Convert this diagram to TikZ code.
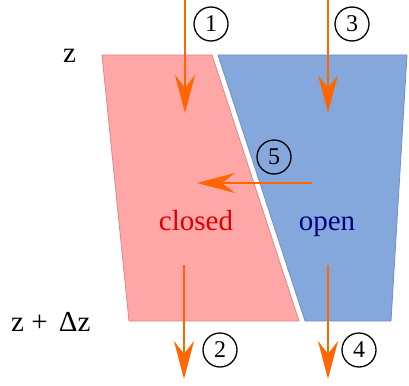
\documentclass[tikz,border=0pt]{standalone}
\usepackage{fontspec}
\setmainfont{Liberation Serif}
\usetikzlibrary{arrows.meta}
\definecolor{redfill}{HTML}{FFA6A6}
\definecolor{redline}{HTML}{D98A8A}
\definecolor{bluefill}{HTML}{85A8DC}
\definecolor{blueline}{HTML}{7090C0}
\definecolor{flow}{HTML}{FF6600}
\definecolor{closedred}{HTML}{DD0000}
\definecolor{opennavy}{HTML}{000080}
\tikzset{
  flowarrow/.style={draw=flow, line width=1.8pt, -{Stealth[length=38pt,width=20pt,inset=13pt]}},
  numcircle/.style={circle, draw=black, line width=1.3pt, minimum size=34pt, inner sep=0pt, font=\fontsize{24}{24}\selectfont},
  lbl/.style={font=\fontsize{29}{29}\selectfont, inner sep=0pt},
}
\begin{document}
\begin{tikzpicture}[x=1pt,y=-1pt]
\useasboundingbox (0,0) rectangle (409,385);
% cells
\fill[redfill, draw=redline, line width=0.8pt] (102,55) -- (212,55) -- (299,321) -- (129,321) -- cycle;
\fill[bluefill, draw=blueline, line width=0.8pt] (218,55) -- (407,55) -- (391,321) -- (305,321) -- cycle;
% labels
\node[lbl, anchor=base west] (ztop) at (63,63) {z};
\node[lbl, anchor=base west] (zbot) at (11,331) {z + \hspace{4pt}Δz};
\node[lbl, anchor=base, text=closedred] (closed) at (196,230) {closed};
\node[lbl, anchor=base, text=opennavy] (open) at (327,230) {open};
% arrow coordinates
\coordinate (a1s) at (185,0);   \coordinate (a1e) at (185,113);
\coordinate (a3s) at (328,0);   \coordinate (a3e) at (328,113);
\coordinate (a2s) at (184,265); \coordinate (a2e) at (184,379);
\coordinate (a4s) at (328,265); \coordinate (a4e) at (328,379);
\coordinate (a5s) at (312,183); \coordinate (a5e) at (197,183);
\draw[flowarrow] (a1s) -- (a1e);
\draw[flowarrow] (a3s) -- (a3e);
\draw[flowarrow] (a2s) -- (a2e);
\draw[flowarrow] (a4s) -- (a4e);
\draw[flowarrow] (a5s) -- (a5e);
% numbers
\node[numcircle] (n1) at (211,24) {1};
\node[numcircle] (n3) at (352,24) {3};
\node[numcircle] (n2) at (220,350) {2};
\node[numcircle] (n4) at (359,350) {4};
\node[numcircle] (n5) at (274,157) {5};
\end{tikzpicture}
\end{document}
